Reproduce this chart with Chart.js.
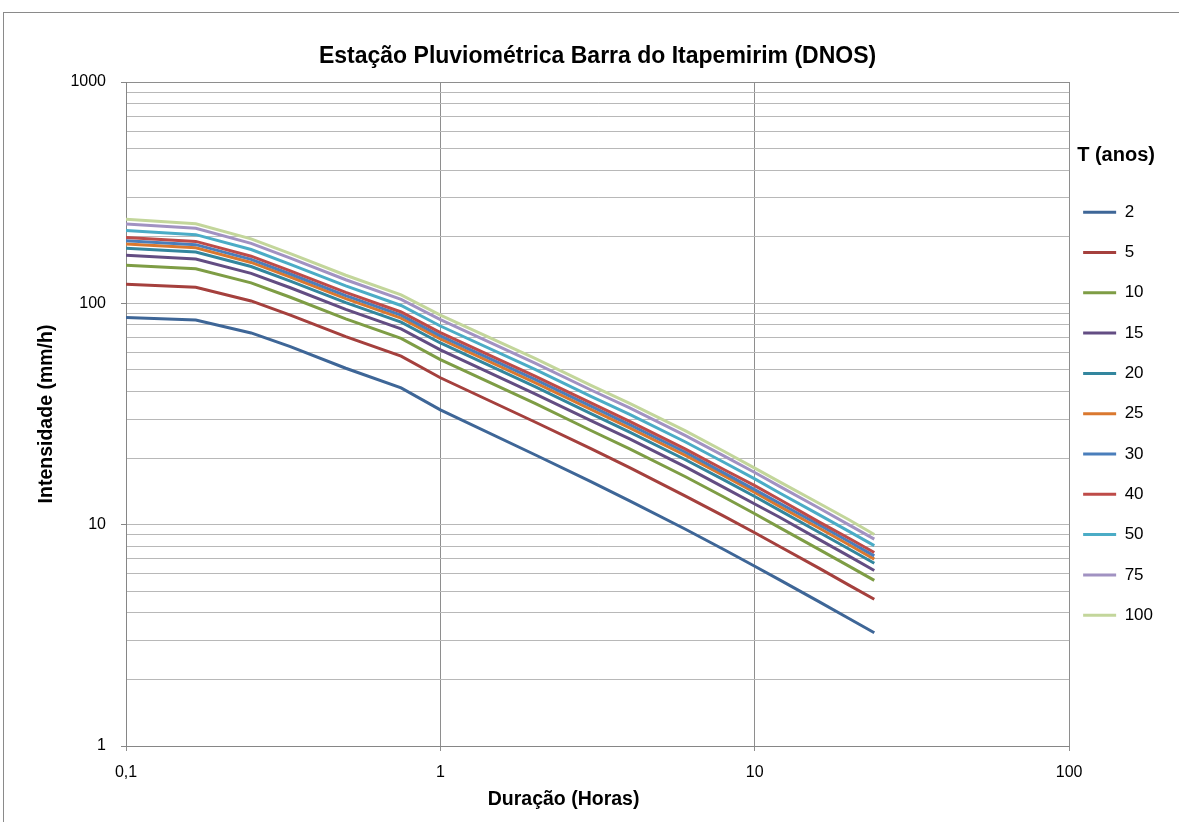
<!DOCTYPE html>
<html><head><meta charset="utf-8">
<script src="https://cdn.jsdelivr.net/npm/chart.js@4.4.1/dist/chart.umd.min.js"></script>
<style>
html,body{margin:0;padding:0;background:#fff;overflow:hidden;width:1179px;height:822px;}
#frame{position:absolute;left:3px;top:12px;width:1300px;height:900px;border:1px solid #8a8a8a;box-sizing:border-box;}
#c{position:absolute;left:0;top:0;}
</style></head><body>
<div id="frame"></div>
<canvas id="c" width="1179" height="822"></canvas>
<script>
const chartTitle = 'Estação Pluviométrica Barra do Itapemirim (DNOS)';
const xTitle = 'Duração (Horas)';
const yTitle = 'Intensidade (mm/h)';
const legendTitle = 'T (anos)';

const durations = [0.1, 0.1667, 0.25, 0.3333, 0.5, 0.75, 1, 2, 3, 4, 6, 8, 10, 12, 16, 20, 24];
const returnPeriods = ['2', '5', '10', '15', '20', '25', '30', '40', '50', '75', '100'];

const i2   = [86.2, 84.1, 73.5, 63.7, 50.9, 41.5, 33.0, 20.7, 15.7, 12.8, 9.56, 7.70, 6.49, 5.63, 4.49, 3.76, 3.25];
const i5   = [122.0, 118.2, 102.5, 88.5, 70.7, 57.7, 46.1, 29.1, 22.1, 18.1, 13.5, 10.9, 9.19, 7.97, 6.36, 5.32, 4.60];
const i10  = [148.5, 143.3, 123.7, 106.5, 85.1, 69.4, 55.7, 35.3, 26.7, 22.0, 16.5, 13.3, 11.2, 9.70, 7.73, 6.48, 5.60];
const i15  = [164.7, 158.6, 136.6, 117.6, 93.9, 76.6, 61.6, 39.0, 29.6, 24.4, 18.3, 14.7, 12.4, 10.8, 8.58, 7.19, 6.21];
const i20  = [177.5, 170.6, 146.7, 126.1, 100.8, 82.2, 66.2, 42.0, 31.8, 26.2, 19.7, 15.9, 13.4, 11.6, 9.24, 7.74, 6.69];
const i25  = [185.4, 178.1, 153.0, 131.5, 105.1, 85.7, 69.1, 43.8, 33.3, 27.4, 20.6, 16.6, 14.0, 12.1, 9.66, 8.09, 6.99];
const i30  = [191.8, 184.1, 158.0, 135.7, 108.4, 88.4, 71.3, 45.3, 34.4, 28.3, 21.3, 17.1, 14.4, 12.5, 9.99, 8.37, 7.23];
const i40  = [198.6, 190.5, 163.3, 140.2, 112.1, 91.4, 73.7, 46.9, 35.6, 29.3, 22.0, 17.7, 15.0, 13.0, 10.3, 8.66, 7.49];
const i50  = [213.3, 204.3, 175.0, 150.1, 119.9, 97.8, 79.0, 50.3, 38.1, 31.5, 23.7, 19.1, 16.1, 13.9, 11.1, 9.30, 8.04];
const i75  = [228.2, 218.3, 186.6, 160.0, 127.8, 104.2, 84.4, 53.7, 40.7, 33.7, 25.3, 20.4, 17.2, 14.9, 11.9, 9.95, 8.60];
const i100 = [239.6, 229.0, 195.6, 167.6, 133.9, 109.2, 88.4, 56.4, 42.7, 35.3, 26.6, 21.4, 18.0, 15.6, 12.5, 10.5, 9.03];

const xTickValues = [0.1, 1, 10, 100];
const xTickLabels = ['0,1', '1', '10', '100'];
const yTickValues = [1, 10, 100, 1000];
const yTickLabels = ['1', '10', '100', '1000'];
const yGridValues = [1, 2, 3, 4, 5, 6, 7, 8, 9, 10, 20, 30, 40, 50, 60, 70, 80, 90,
                     100, 200, 300, 400, 500, 600, 700, 800, 900, 1000];

const seriesColors = ['#3E6697', '#A5403D', '#7E9D45', '#634D83', '#33869E', '#DA782F',
                      '#4A7EBB', '#BE4B48', '#4BACC6', '#A192C2', '#C3D69B'];

const FONT = "'Liberation Sans', Arial, sans-serif";
Chart.defaults.font.family = FONT;
Chart.defaults.color = '#000';

const isPow10 = v => Math.abs(Math.log10(v) - Math.round(Math.log10(v))) < 1e-9;

const series = [i2, i5, i10, i15, i20, i25, i30, i40, i50, i75, i100];
const datasets = series.map((vals, k) => ({
  label: returnPeriods[k],
  data: durations.map((d, j) => ({x: d, y: vals[j]})),
  borderColor: seriesColors[k],
  backgroundColor: seriesColors[k],
  pointBorderColor: seriesColors[k],
  pointBackgroundColor: seriesColors[k],
  borderWidth: 3,
  pointBorderWidth: 3,
  pointRadius: 0,
  tension: 0,
  fill: false,
  order: series.length - k
}));

// x-axis title, placed where the reference has it (a little left of the plot centre)
const xAxisTitlePlugin = {
  id: 'xAxisTitle',
  afterDraw(chart) {
    const {ctx, chartArea} = chart;
    ctx.save();
    ctx.font = 'bold 19.5px ' + FONT;
    ctx.fillStyle = '#000';
    ctx.textAlign = 'center';
    ctx.textBaseline = 'middle';
    ctx.fillText(xTitle, (chartArea.left + chartArea.right) / 2 - 34, chartArea.bottom + 54);
    ctx.restore();
  }
};

new Chart(document.getElementById('c'), {
  type: 'line',
  data: {datasets},
  plugins: [xAxisTitlePlugin],
  options: {
    responsive: false,
    animation: false,
    events: [],
    layout: {padding: {left: 0, right: 16, top: 0, bottom: 0}},
    plugins: {
      tooltip: {enabled: false},
      title: {
        display: true, text: chartTitle, color: '#000', fullSize: false,
        font: {size: 23, weight: 'bold'},
        padding: {top: 43.2, bottom: 11.2}
      },
      legend: {
        position: 'right', align: 'start', fullSize: false,
        title: {
          display: true, text: legendTitle, color: '#000', position: 'center',
          font: {size: 20, weight: 'bold'},
          padding: {top: 63, bottom: 20.7}
        },
        labels: {
          usePointStyle: true, pointStyle: 'line', pointStyleWidth: 33,
          padding: 14, color: '#000',
          font: {size: 17, lineHeight: '26.3px'},
          generateLabels: chart => Chart.defaults.plugins.legend.labels.generateLabels(chart)
            .map(l => Object.assign(l, {text: [l.text]})),
          sort: (a, b) => a.datasetIndex - b.datasetIndex
        }
      }
    },
    scales: {
      x: {
        type: 'logarithmic', min: 0.1, max: 100, position: 'bottom',
        afterBuildTicks: s => { s.ticks = xTickValues.map(v => ({value: v})); },
        afterFit: s => { s.height = 76; },
        ticks: {
          autoSkip: false, maxRotation: 0, minRotation: 0, padding: 12,
          font: {size: 16}, color: '#000',
          callback: v => { const i = xTickValues.indexOf(v); return i >= 0 ? xTickLabels[i] : ''; }
        },
        grid: {color: '#8E8E8E', tickColor: '#8E8E8E', tickLength: 5, lineWidth: 1},
        border: {color: '#868686', width: 1},
        title: {display: false, text: xTitle}
      },
      y: {
        type: 'logarithmic', min: 1, max: 1000, position: 'left',
        afterBuildTicks: s => { s.ticks = yGridValues.map(v => ({value: v})); },
        afterFit: s => { s.width = 126; },
        ticks: {
          autoSkip: false, padding: 15, font: {size: 16}, color: '#000',
          callback: v => { const i = yTickValues.indexOf(v); return i >= 0 ? yTickLabels[i] : ''; }
        },
        grid: {
          color: c => (c.tick && c.tick.value === 1000) ? '#8E8E8E' : '#B8B8B8',
          tickColor: c => (c.tick && isPow10(c.tick.value)) ? '#868686' : 'rgba(0,0,0,0)',
          tickLength: 5, lineWidth: 1
        },
        border: {color: '#868686', width: 1},
        title: {
          display: true, text: yTitle, color: '#000',
          font: {size: 19.5, weight: 'bold'},
          padding: {top: 35.3, bottom: 0}
        }
      }
    }
  }
});
</script>
</body></html>
